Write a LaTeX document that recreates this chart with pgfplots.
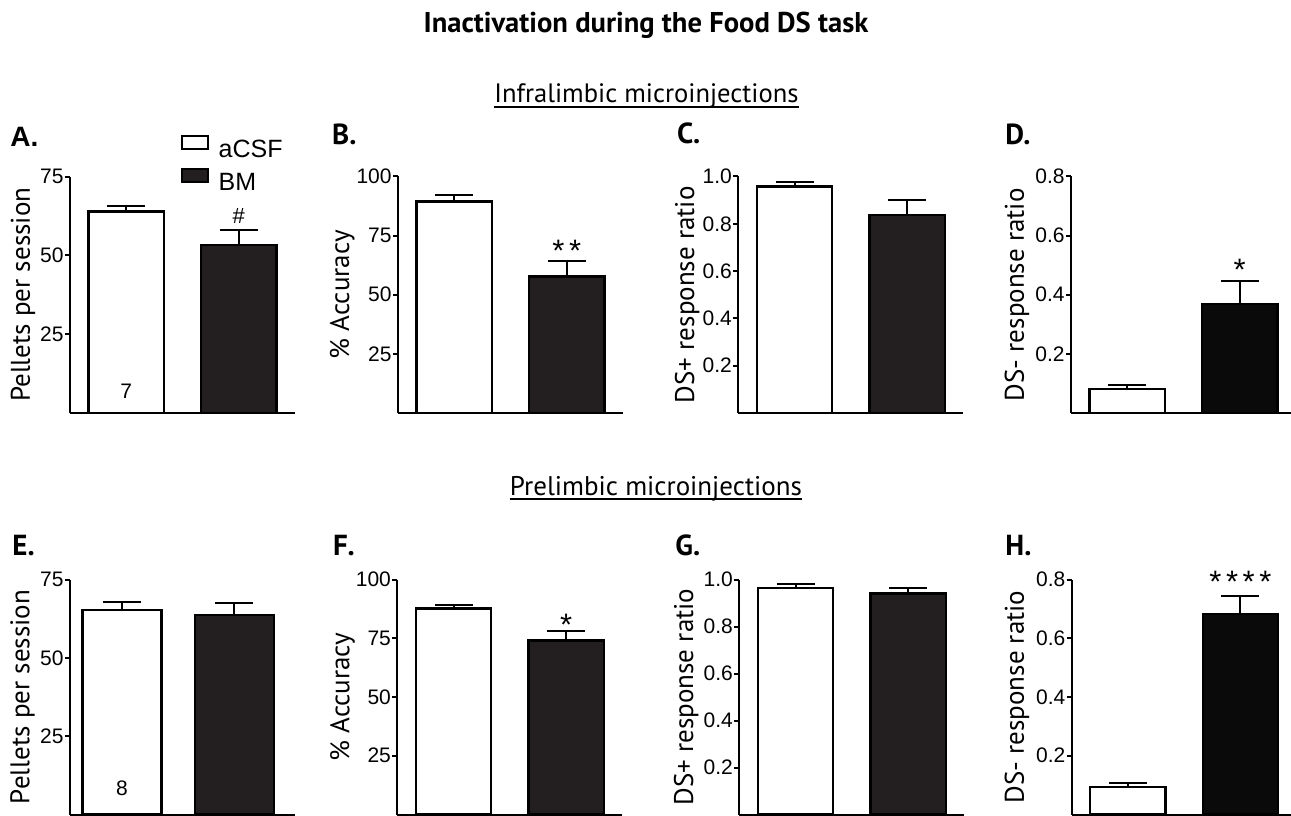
\documentclass[border=0pt]{standalone}
\usepackage{pgfplots}
\pgfplotsset{compat=1.18}
\usepackage{fontspec}
\setmainfont{PT Sans}
\newfontfamily\arial{Liberation Sans}
\definecolor{bmfill}{HTML}{231F20}
\definecolor{bmblack}{HTML}{0A0A0A}

\pgfplotsset{
  panel/.style={
    scale only axis, width=112.5pt, height=118.25pt,
    xmin=0.5, xmax=2.5, ymin=0,
    axis x line*=bottom, axis y line*=left,
    axis line style={line width=1pt, black},
    xtick=\empty, ytick pos=left, tick align=outside, major tick length=2.5pt,
    tick style={line width=1pt, black},
    tick label style={font=\arial\fontsize{10.5}{12}\selectfont},
    yticklabel style={inner sep=0.5pt},
    /pgf/number format/assume math mode=true,
    clip=false, bar width=0.67,
    anchor=south west,
  },
  ylab/.style={every axis y label/.style={at={(axis description cs:#1,0.5)}, rotate=90, anchor=center, font=\fontsize{13.5}{15}\selectfont}},
  dec/.style={yticklabel style={/pgf/number format/fixed, /pgf/number format/fixed zerofill, /pgf/number format/precision=1}},
  ebar/.style={
    /pgfplots/error bars/y dir=plus, /pgfplots/error bars/y explicit,
    /pgfplots/error bars/error mark=|,
    /pgfplots/error bars/error bar style={line width=1pt, black},
    /pgfplots/error bars/error mark options={line width=1pt, black, mark size=9.5pt}},
  wbar/.style={ybar, bar shift=0pt, fill=white, draw=black, line width=1.2pt,
    legend image code/.code={\draw[##1, line width=1pt] (0pt,0pt) rectangle (13pt,6.5pt);}, ebar},
  kbar/.style={ybar, bar shift=0pt, fill=#1, draw=black, line width=1.2pt,
    legend image code/.code={\draw[##1, line width=1pt] (0pt,0pt) rectangle (13pt,6.5pt);}, ebar},
}
\tikzset{
  star/.style={font=\arial\fontsize{15.5}{15}\selectfont, anchor=base, inner sep=0pt},
  nlab/.style={font=\arial\fontsize{10.5}{12}\selectfont, anchor=base, inner sep=0pt},
}

\begin{document}
\begin{tikzpicture}
\useasboundingbox (0,0) rectangle (645.5pt,407.5pt);

% ---------- A ----------
\begin{axis}[panel, at={(35pt,201pt)}, ymax=75, ytick={25,50,75}, ylab=-0.209,
  ylabel={Pellets per session},
  legend style={draw=none, fill=none, inner sep=0pt, at={(rel axis cs:0.49,1.178)}, anchor=north west,
    font=\arial\fontsize{12.5}{14}\selectfont, row sep=5pt, column sep=5pt,
    nodes={inner sep=0pt, text depth=0pt}},
  legend cell align=left]
\addplot[wbar] coordinates {(1,63.9) +- (0,1.9)};
\addlegendentry{aCSF}
\addplot[kbar=bmfill] coordinates {(2,53.3) +- (0,4.6)};
\addlegendentry{BM}
\node[font=\arial\fontsize{11}{12}\selectfont, anchor=base, inner sep=0pt] at (axis cs:2,60.1) {\#};
\node[nlab] at (axis cs:1,4.75) {7};
\end{axis}

% ---------- B ----------
\begin{axis}[panel, at={(199pt,201pt)}, ymax=100, ytick={25,50,75,100}, ylab=-0.248,
  ylabel={\% Accuracy}]
\addplot[wbar] coordinates {(1,89.5) +- (0,2.7)};
\addplot[kbar=bmfill] coordinates {(2,57.7) +- (0,6.7)};
\node[star] at (axis cs:2,63.9) {*\kern2.3pt*};
\end{axis}

% ---------- C ----------
\begin{axis}[panel, dec, at={(369.15pt,201pt)}, ymax=1, ytick={0.2,0.4,0.6,0.8,1.0}, ylab=-0.227,
  ylabel={DS+ response ratio}]
\addplot[wbar] coordinates {(1,0.958) +- (0,0.018)};
\addplot[kbar=bmfill] coordinates {(2,0.836) +- (0,0.064)};
\end{axis}

% ---------- D ----------
\begin{axis}[panel, dec, at={(535.5pt,201pt)}, ymax=0.8, ytick={0.2,0.4,0.6,0.8}, ylab=-0.24,
  ylabel={DS- response ratio}]
\addplot[wbar] coordinates {(1,0.081) +- (0,0.015)};
\addplot[kbar=bmblack] coordinates {(2,0.368) +- (0,0.079)};
\node[star] at (axis cs:2,0.447) {*};
\end{axis}

% ---------- E ----------
\begin{axis}[panel, at={(35pt,0.25pt)}, height=117.5pt, xmin=0.538, xmax=2.538, bar width=0.7, ymax=75, ytick={25,50,75}, ylab=-0.211,
  ylabel={Pellets per session}]
\addplot[wbar] coordinates {(1,65.2) +- (0,2.5)};
\addplot[kbar=bmfill] coordinates {(2,63.6) +- (0,3.9)};
\node[nlab] at (axis cs:1,6.0) {8};
\end{axis}

% ---------- F ----------
\begin{axis}[panel, at={(198.65pt,0.25pt)}, height=117.5pt, ymax=100, ytick={25,50,75,100}, ylab=-0.244,
  ylabel={\% Accuracy}]
\addplot[wbar] coordinates {(1,87.6) +- (0,1.7)};
\addplot[kbar=bmfill] coordinates {(2,74.0) +- (0,4.1)};
\node[star] at (axis cs:2,76.3) {*};
\end{axis}

% ---------- G ----------
\begin{axis}[panel, dec, at={(369.65pt,0.25pt)}, height=117.5pt, ymax=1, ytick={0.2,0.4,0.6,0.8,1.0}, ylab=-0.236,
  ylabel={DS+ response ratio}]
\addplot[wbar] coordinates {(1,0.963) +- (0,0.019)};
\addplot[kbar=bmfill] coordinates {(2,0.940) +- (0,0.024)};
\end{axis}

% ---------- H ----------
\begin{axis}[panel, dec, at={(535.85pt,0.25pt)}, height=117.5pt, ymax=0.8, ytick={0.2,0.4,0.6,0.8}, ylab=-0.243,
  ylabel={DS- response ratio}]
\addplot[wbar] coordinates {(1,0.094) +- (0,0.013)};
\addplot[kbar=bmblack] coordinates {(2,0.683) +- (0,0.061)};
\node[star] at (axis cs:2,0.757) {*\kern2.3pt*\kern2.3pt*\kern2.3pt*};
\end{axis}

% ---------- titles ----------
\node[font=\bfseries\fontsize{14.3}{16}\selectfont, anchor=base, inner sep=0pt] at (323pt,391.25pt) {Inactivation during the Food DS task};
\node[font=\fontsize{13.3}{15}\selectfont, anchor=base, inner sep=0pt] (s1) at (323.2pt,356pt) {Infralimbic microinjections};
\draw[line width=0.6pt] ([yshift=-2pt]s1.base west) -- ([yshift=-2pt]s1.base east);
\node[font=\fontsize{13.5}{15}\selectfont, anchor=base, inner sep=0pt] (s2) at (328pt,160pt) {Prelimbic microinjections};
\draw[line width=0.6pt] ([yshift=-2pt]s2.base west) -- ([yshift=-2pt]s2.base east);

% ---------- panel letters ----------
\begin{scope}[every node/.style={anchor=base west, inner sep=0pt, font=\bfseries\fontsize{14.5}{16}\selectfont}]
\node[font=\arial\bfseries\fontsize{14}{16}\selectfont] at (5pt,334pt) {A.};
\node at (165.9pt,335pt) {B.};
\node at (338.3pt,335.5pt) {C.};
\node at (502.5pt,335pt) {D.};
\node at (6pt,130pt) {E.};
\node at (166.3pt,130pt) {F.};
\node at (337.5pt,130pt) {G.};
\node at (502.5pt,130pt) {H.};
\end{scope}
\end{tikzpicture}
\end{document}
